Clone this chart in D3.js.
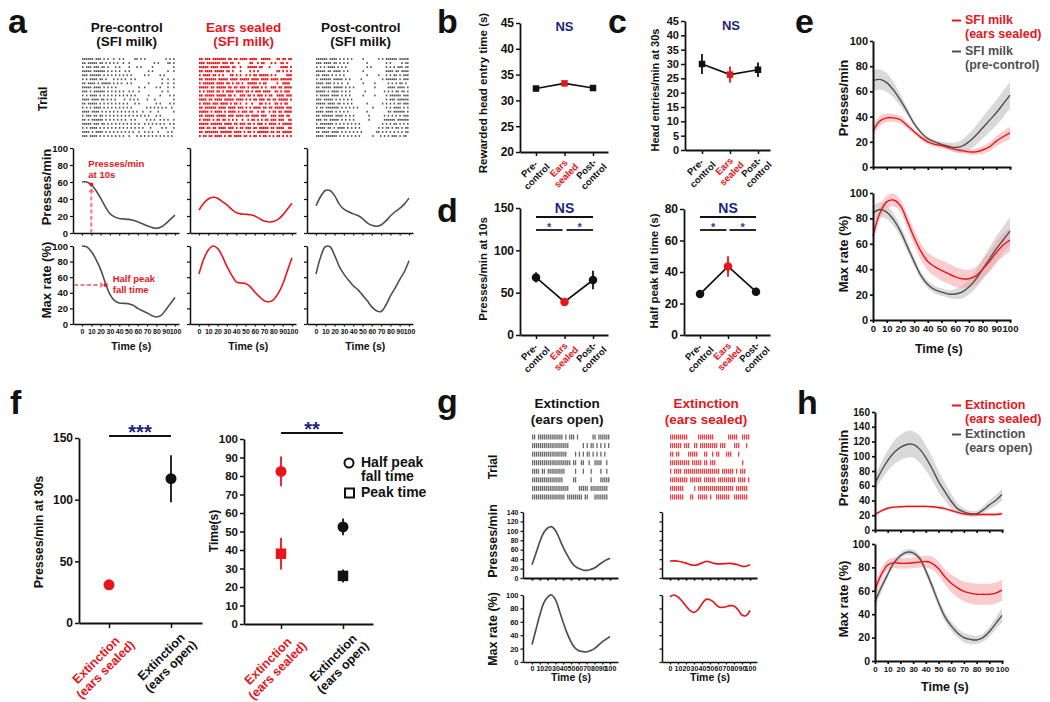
<!DOCTYPE html>
<html><head><meta charset="utf-8">
<script src="https://cdn.jsdelivr.net/npm/d3@7"></script>
<style>
body{margin:0;background:#fff}
svg text{font-family:"Liberation Sans",Arial,Helvetica,sans-serif;font-weight:bold}
</style></head><body>
<script>
// ================= DATA =================
const timeTicks=[0,10,20,30,40,50,60,70,80,90,100];
const pctTicks=[0,20,40,60,80,100];
const curveTime=[0,5,10,15,20,25,30,35,40,45,50,55,60,65,70,75,80,85,90,95,100];

// panel a
const aTitles=[["Pre-control","(SFI milk)"],["Ears sealed","(SFI milk)"],["Post-control","(SFI milk)"]];
const aPrePresses=[60,60,57,50,41,31,23,19,17,16.5,16,15,13,11,8.5,6.5,5.5,7,11,16,21];
const aPreMaxRate=[100,99,93,83,70,53,38,30,27,26.5,26,24,20,17,14,11,9,11,18,26,34];
const aEarsPresses=[27,35,40,42,41,37,33,28,24,22.5,22,21.5,20,17,14,13,13.5,16,21,28,35];
const aEarsMaxRate=[64,83,95,100,97,87,74,63,54,52.5,52,48,41,35,30,28.5,31,39,51,68,85];
const aPostPresses=[32,43,50,50,44,34,28,25,22.5,20.5,17,12,9,8,9.5,14,20,25,29,34,41];
const aPostMaxRate=[64,86,99,99,88,74,64,56,49,44,37,30,22,17,16,24,36,46,57,67,81];
const aPressesMarkTime=10, aPressesMarkValue=57;
const aHalfPeakTime=25.5, aHalfPeakValue=50;
const aPreTrials=[
"######.###.#.#..#..#.#.....##.#.#..........#.#.#",
"##.#####.##.#.#.#.#..#..#............#.#....##.#",
"#.###.###.##.#...#.#....#...#.#.....#..........#",
"#####.######.#.#.#.#..#.#.........#.#.......#..#",
"###.######.#.#.#.#.#.#.#.#......#.#.....#.#.....",
"#.#.####.##.#...#.#.#.#..#.#.............#..#..#",
"##.####.#.#####.#.#.#..#.#........#......#..#..#",
"#####.####.#.#.#.#...........#..#.....#.#...#..#",
"###.#.######.#.#.#.#.#..#.#..#...........#..#...",
"#.#.####.#.#.#.#.#.#.#.#.#.#......#.....#....#.#",
"####.####.##.#.#.#....#..#.#.#....#...#.........#",
"##.#####.#.#.#.#.#.#.#.#...#.#........#.#....#.#",
"#.#.#.####.#.#.#.#.#.#.#.#.......#.#.#.#.#.#..#.",
"####.####.#.#.#.#.#.#.#.#.#.#..#...#...#.......#",
"#.###.##.##.#.#.#.#.#.#.#.#.#.#.#.#...#.#.......",
"##.#.######.#.#.#.#.#.#..#.#.....#.#.#..#.#.#..#",
"#####.###.##.#.#.#.#.#.#.#.#.#..#.#.#.#.#.#..#.#",
"#.#.####.#.#.#.#.#.#.#.#.#.#.#.#...#.....#.#...#",
"####.#.####.#.#.#.#.#.#.#.#..#..#.#.#..#....#.#.",
"###.####.#.#.#.#.#.#.#..#...#.#.#.#.#.#.#.#.#.#."];
const aEarsTrials=[
"##.###.#######.##.##.####.####..#####...##.##.##",
"###.#######.###.##..#.....##..#.##...#.#..##.#..",
"#####.####.#####.##..#...#####.##...#.....####.#",
"##.####.#####.##.#...#....#.#.#.........##.#.#.#",
"#.####.##.#.#...##.#.#..#.#.##.#####.#.#.....###",
"##.######.#####.####.#####.####.####.####.######",
"#.######.####.##.#.##.#..#####.#.##.....#..####.",
"#####.##.#####.##.##.###.#.####.#.#..###.##.####",
"#.#.####.##.#.####.####.##.#.###.####..##.#.###.",
"##.#####.#####.##.#..###.##.#.###.#.##..####.###",
"####.##.####.#####.####.#.#.##.###.##.##.#####.#",
"#.####.###.####.#.##.#..#..#...##.#.#..##.#.##..",
"##.######.####.####.###.#.#.####.##.##.#####.###",
"#####.#.####.#.####.#.###.##..#.##..#.##.##.####",
"##.#####.#####.###.####.##.####.###..###.###.##.",
"#.####.#.##.##.#.#.#..#..#.##.#.#.##.###.###..##",
"#####.######.####.##.###.##.#.###.#.####.#.#####",
"###.##.##.####.###.#.##.###.##.#####.##.####..##",
"##.#######.######.####.#.##.#.######.##.##.#####",
"#.##.##.####.#.##.####.##.#.##.#.##.#.#.##.#.#.#"];
const aPostTrials=[
"######.####.#.#.#.#.....#.......#.#.######.#####",
"###.####.##.#.#.#.........#.........#.#.....#.##",
"#.#.#.####.#.#.#..........#.#.......#.#.#.###.##",
"#####.##.####.#.#.......#...........####.##.####",
"##.####.#.#.#.#...........#.....#...#.#.##.#.###",
"#.######.#####.#.#.....#..........#.######.#.###",
"####.###.#.#.#..#.......#.....#......#.#.#.##.#.",
"##.#####.#####.#.#.#..........#......####.####.#",
"#####.#.####.#.#.#.......#.........#.#.#.##.##.#",
"#.#####.####.#.#.#......#.....#.....#.######.###",
"###.#####.#.#.#.#.#.................#.###.######",
"#####.####.##.#.#.#.......#.......#.#.#.#.##.###",
"#.##.#######.#.#.#.#.#.......#......#.#.####.#.#",
"####.####.#.#.#.#.........#..........##.######.#",
"##.######.####.#.#.#.......#.......#.#.#.#.#.###",
"###.##.#####.#.#.#.#.......#.......######.######",
"#.#######.#.#.#.#.#.#.#...........#.#.#.##.#.#.#",
"#####.##.#.####.#.#.#.#.........#.#.##.#.##.#.##",
"##.####.####.#.#.#.#.#.#.......##.#.#.#.#.#.#.##",
"####.######.#.#.#.#.#.#......#...#.#.#.###.#.##."];

// panels b, c, d
const bcdCategories=[["Pre-","control"],["Ears","sealed"],["Post-","control"]];
const bTicks=[20,25,30,35,40,45];
const bHeadEntryTime=[32.3,33.3,32.4];
const bHeadEntryErr=[0.3,0.4,0.3];
const cTicks=[0,5,10,15,20,25,30,35,40,45];
const cHeadEntries=[30,26.3,28];
const cHeadEntriesErr=[3.5,2.8,2.5];
const dPressTicks=[0,50,100,150];
const dPresses10s=[68,39,65];
const dPresses10sErr=[6,3,11];
const dHalfTicks=[0,20,40,60,80];
const dHalfFall=[26,43.5,27.5];
const dHalfFallErr=[1.5,6.5,1.5];

// panel e
const eLegend=[["SFI milk","(ears sealed)"],["SFI milk","(pre-control)"]];
const eSealedPresses=[28.5,36.5,39,39,37.5,33,28,23.5,20,18,17,15.5,14,13,12,12,13.5,16,20.5,24,27];
const eSealedPressesSem=[4.5,4,3.5,3,3,2.5,2,2,2,2,2,2,2,2,2,2.5,3,3.5,4,4.5,5];
const eControlPresses=[68.5,69.5,67,61,53,44,34.5,27.5,22.5,20,18,16.5,15.5,16.5,20,25,31,37,43,50,57];
const eControlPressesSem=[8.5,8,7.5,6,4.5,3,2,1.5,1.5,1.5,2,3,4,5,6.5,7.5,8.5,9.5,10,10.5,10.5];
const eSealedMax=[66,84,93,94.5,90,78,65,54,46,42,39,36.5,34,32.5,32.5,34.5,40,46,53,59,63];
const eSealedMaxSem=[6,5,5,5,5,5.5,6,6.5,7,7.5,8,8,8,7.5,7,7,7.5,8,8.5,9,9];
const eControlMax=[84,87,85,79,70,58,46,35,28,24,22,20.5,20.5,22,26,32,40,48,56,63,70];
const eControlMaxSem=[6,6,5.5,5,4.5,4,3.5,3,3,3,3,3,4,5,6,7,8,9,10,10.5,11];

// panel f
const fCategories=[["Extinction","(ears sealed)"],["Extinction","(ears open)"]];
const fPressTicks=[0,50,100,150];
const fPresses30s=[31,117];
const fPresses30sErr=[2,19];
const fTimeTicks=[0,10,20,30,40,50,60,70,80,90,100];
const fHalfPeakFall=[82.5,52.5];
const fHalfPeakFallErr=[8,4.5];
const fPeakTime=[38,26];
const fPeakTimeErr=[8.5,3.5];
const fLegend=[["Half peak","fall time"],["Peak time"]];

// panel g
const gTitles=[["Extinction","(ears open)"],["Extinction","(ears sealed)"]];
const gPressTicks=[0,20,40,60,80,100,120,140];
const gOpenPresses=[28,52,77,96,106,109,101,84,65,49,35,25,20,17,16,18,21,27,33,38,42];
const gOpenMax=[26,48,70,88,97,100,93,77,59,43,30,21,17,15.5,15,17,20,25,30,34,38];
const gSealedPresses=[36,36.5,35.5,34,31.5,28.5,27,28.5,32,35,34,31,30,30,30.5,31,30,28,25,25,28];
const gSealedMax=[97.5,100,97,91,83.5,77,74,78,87,93.5,93,89,83,81.5,82.5,84,83.5,78,70,69,77];
const gOpenTrials=[
"##.#############.#.###.#.......##.######",
"###################.......#.#.##.#.#.#.#",
"##################....#.#.#.##.#.#.#.#..",
"####################.##..##..#..####..#.",
"####.##.#########.....#...#...#....#..#.",
"################.....##.......#....#####",
"###################.....#####.#########.",
"#################.########.##...#######."];
const gSealedTrials=[
"#########.....########.......#####..####",
"######.###..##.#########.###....###...#.",
"##.##....#####...##..#.##...###...#.....",
"##########.#####.##.###.............#...",
"#.####.##################.######.#.###..",
"#########.######.######.#########.####.#",
"#######.....#.##################.######.",
"#######...##..#####.#..#######..#######."];

// panel h
const hLegend=[["Extinction","(ears sealed)"],["Extinction","(ears open)"]];
const hPressTicks=[0,20,40,60,80,100,120,140,160];
const hSealedPresses=[21,26,29.5,31,31.5,32,32,32,32,31.5,30.5,29,26.5,24,22,21,21,21,21,21,22];
const hSealedPressesSem=[2,2,2,2,2,2,2,2,2,2,2,2,2,2,2,2,2,2,2,2,2];
const hOpenPresses=[63,80,94,105,112,116,116,110,98,83,66,52,39,29,24.5,22,22,27,34,40,48];
const hOpenPressesSem=[10,12,14,16,17,18,18,18,17,16,14,12,10,7,5,4,4,5,6,7,8];
const hSealedMax=[60.5,74,82,84,83.5,83.5,84,84.5,85,83.5,79,72,66.5,62.5,59.5,58,57,57,57,58,60.5];
const hSealedMaxSem=[6,5,4.5,4.5,4.5,4.5,4.5,4.5,5,5.5,6,6.5,7.5,8,8.5,9,9,9,9,9,9];
const hOpenMax=[51,63,74,84,90,93,92.5,88,77,64,50,38,30,24,20,18.5,18,20,25,32,39];
const hOpenMaxSem=[6,4,3,2.5,2.5,2.5,2.5,3,3.5,4,4,4,4,4,4,4,3.5,3.5,4,5,6];

// ================= DRAWING =================
const RED='#e8151b', GRAY='#4f4f4f', BLK='#111', NAVY='#1c1f7e', STAR='#3535a5', PINK='#f07a80';
const svg=d3.select('body').append('svg').attr('width',1050).attr('height',702);

function txt(x,y,s,o={}){
  const t=svg.append('text')
    .attr('transform',`translate(${x},${y})`+(o.rot?` rotate(${o.rot})`:''))
    .attr('text-anchor',o.anchor||'start').attr('fill',o.fill||BLK)
    .style('font-size',(o.fs||12)+'px').text(s);
  return t;
}
function styleAxis(g,fs,sw){
  g.attr('font-family',null).attr('font-size',null);
  g.select('.domain').attr('stroke',BLK).attr('stroke-width',sw);
  g.selectAll('.tick line').attr('stroke',BLK).attr('stroke-width',Math.max(1,sw-0.3));
  g.selectAll('.tick text').attr('fill',BLK).style('font-size',fs+'px');
}
function axisL(x,ys,ticks,fs,o={}){
  const ax=d3.axisLeft(ys).tickValues(ticks).tickSize(o.size||3).tickSizeOuter(0).tickPadding(o.pad||2);
  if(o.noLabels) ax.tickFormat(()=> '');
  const g=svg.append('g').attr('transform',`translate(${x},0)`).call(ax);
  styleAxis(g,fs,o.sw||1.6); return g;
}
function axisB(y,xs,ticks,fs,o={}){
  const ax=d3.axisBottom(xs).tickValues(ticks).tickSize(o.size||3).tickSizeOuter(0).tickPadding(o.pad||2);
  if(o.noLabels) ax.tickFormat(()=> '');
  const g=svg.append('g').attr('transform',`translate(0,${y})`).call(ax);
  styleAxis(g,fs,o.sw||1.6); return g;
}
function extend(xs,x0,x1){return d3.scaleLinear().domain([xs.invert(x0),xs.invert(x1)]).range([x0,x1]);}
function curve(xs,ys,t,v,color,w){
  const line=d3.line().x((d,i)=>xs(t[i])).y(d=>ys(d)).curve(d3.curveCatmullRom.alpha(0.5));
  svg.append('path').datum(v).attr('d',line).attr('fill','none').attr('stroke',color).attr('stroke-width',w||1.6);
}
function band(xs,ys,t,v,e,color,op){
  const area=d3.area().x((d,i)=>xs(t[i])).y0((d,i)=>ys(d-e[i])).y1((d,i)=>ys(d+e[i])).curve(d3.curveCatmullRom.alpha(0.5));
  svg.append('path').datum(v).attr('d',area).attr('fill',color).attr('opacity',op);
}
function raster(rows,xs,ys,color,w,h,op){
  rows.forEach((row,r)=>{
    const n=row.length;
    const on=[];
    for(let i=0;i<n;i++) if(row[i]==='#') on.push(i*100/n);
    svg.append('g').selectAll('rect').data(on).join('rect')
      .attr('x',d=>xs(d)).attr('y',ys(r)-h/2).attr('width',w).attr('height',h)
      .attr('fill',color).attr('opacity',op||1);
  });
}
function yLabel(x,cy,s,fs){ txt(x,cy,s,{rot:-90,anchor:'middle',fs}); }
function letter(x,y,s){ txt(x,y,s,{fs:34}); }
function catLabels(xs,axisY,cats,colors,fs,lh,dx,dy){
  cats.forEach((lines,i)=>{
    const g=svg.append('g').attr('transform',`translate(${xs(i)+dx},${axisY+dy}) rotate(-45)`);
    const ts=lines.map((s,j)=>g.append('text').attr('y',j*lh).attr('text-anchor','middle')
      .attr('fill',colors[i]).style('font-size',fs+'px').text(s));
    const mx=d3.max(ts,t=>t.node().getComputedTextLength());
    ts.forEach(t=>t.attr('x',-mx/2));
  });
}
function catPoints(xs,ys,vals,errs,colors,shape,size,connect){
  if(connect){
    svg.append('path').datum(vals).attr('d',d3.line().x((d,i)=>xs(i)).y(d=>ys(d)))
      .attr('fill','none').attr('stroke',BLK).attr('stroke-width',1.7);
  }
  vals.forEach((v,i)=>{
    svg.append('line').attr('x1',xs(i)).attr('x2',xs(i)).attr('y1',ys(v-errs[i])).attr('y2',ys(v+errs[i]))
      .attr('stroke',colors[i]).attr('stroke-width',1.8);
    if(shape==='square') svg.append('rect').attr('x',xs(i)-size/2).attr('y',ys(v)-size/2).attr('width',size).attr('height',size).attr('fill',colors[i]);
    else svg.append('circle').attr('cx',xs(i)).attr('cy',ys(v)).attr('r',size/2).attr('fill',colors[i]);
  });
}
function bracket(x0,x1,y,label,fs,color,ty){
  svg.append('line').attr('x1',x0).attr('x2',x1).attr('y1',y).attr('y2',y).attr('stroke',BLK).attr('stroke-width',1.8);
  txt((x0+x1)/2,ty,label,{anchor:'middle',fs,fill:color});
}
function legend(entries,colors,ys){
  entries.forEach((l,i)=>{
    const y0=ys[i];
    svg.append('line').attr('x1',952).attr('x2',961).attr('y1',y0-3.5).attr('y2',y0-3.5).attr('stroke',colors[i]).attr('stroke-width',2);
    txt(965,y0,l[0],{fs:12.5,fill:colors[i]});
    txt(965,y0+13.5,l[1],{fs:12.5,fill:colors[i]});
  });
}

// ---------- panel a ----------
letter(8,33,'a');
const aAxisX=[73,190,307];
const aPresses=[aPrePresses,aEarsPresses,aPostPresses];
const aMax=[aPreMaxRate,aEarsMaxRate,aPostMaxRate];
const aTrials=[aPreTrials,aEarsTrials,aPostTrials];
const aColors=[GRAY,RED,GRAY];
const aYP=d3.scaleLinear([0,100],[233,148]);
const aYM=d3.scaleLinear([0,100],[324,246]);
const aYR=d3.scaleLinear([0,19],[59,136]);
aAxisX.forEach((ax,i)=>{
  const xs=d3.scaleLinear([0,100],[ax+9,ax+102]);
  const xa=extend(xs,ax,ax+106);
  txt(xs(48),32,aTitles[i][0],{anchor:'middle',fs:13.5,fill:i===1?RED:BLK});
  txt(xs(48),46,aTitles[i][1],{anchor:'middle',fs:13.5,fill:i===1?RED:BLK});
  raster(aTrials[i],xs,aYR,i===1?RED:'#333',i===1?1.7:1.5,i===1?2.2:1.8,i===1?1:0.85);
  axisL(ax,aYP,pctTicks,9.5,{noLabels:i>0,sw:1.5});
  axisB(233,xa,timeTicks,7,{noLabels:true,sw:1.5,size:2.5});
  axisL(ax,aYM,pctTicks,9.5,{noLabels:i>0,sw:1.5});
  axisB(324,xa,timeTicks,7,{sw:1.5,size:2.5,pad:3});
  curve(xs,aYP,curveTime,aPresses[i],aColors[i],1.6);
  curve(xs,aYM,curveTime,aMax[i],aColors[i],1.6);
  txt(xs(53),350,'Time (s)',{anchor:'middle',fs:10.5});
  if(i===0){
    const px=xs(aPressesMarkTime);
    svg.append('line').attr('x1',px).attr('x2',px).attr('y1',aYP(0)).attr('y2',aYP(aPressesMarkValue-9))
      .attr('stroke',PINK).attr('stroke-width',2).attr('stroke-dasharray','4,2.5');
    svg.append('path').attr('d',`M${px-3.2},${aYP(aPressesMarkValue-9)}L${px+3.2},${aYP(aPressesMarkValue-9)}L${px},${aYP(aPressesMarkValue-4)}Z`).attr('fill',PINK);
    svg.append('circle').attr('cx',px).attr('cy',aYP(aPressesMarkValue)).attr('r',2).attr('fill',RED);
    txt(px-3,167,'Presses/min',{fs:9.5,fill:RED});
    txt(px-3,178,'at 10s',{fs:9.5,fill:RED});
    const hy=aYM(aHalfPeakValue);
    svg.append('line').attr('x1',ax+1).attr('x2',xs(aHalfPeakTime-6)).attr('y1',hy).attr('y2',hy)
      .attr('stroke',PINK).attr('stroke-width',2).attr('stroke-dasharray','4,2.5');
    svg.append('path').attr('d',`M${xs(aHalfPeakTime-6)},${hy-3.2}L${xs(aHalfPeakTime-6)},${hy+3.2}L${xs(aHalfPeakTime-2)},${hy}Z`).attr('fill',PINK);
    svg.append('circle').attr('cx',xs(aHalfPeakTime)).attr('cy',hy).attr('r',2).attr('fill',RED);
    txt(xs(aHalfPeakTime)+7,282,'Half peak',{fs:9.5,fill:RED});
    txt(xs(aHalfPeakTime)+7,293,'fall time',{fs:9.5,fill:RED});
  }
});
txt(47,99,'Trial',{rot:-90,anchor:'middle',fs:12});
yLabel(51,187,'Presses/min',13);
yLabel(51,280,'Max rate (%)',13);

// ---------- panel b ----------
letter(437,33,'b');
{
  const ys=d3.scaleLinear([20,45],[152,23]);
  const xs=d3.scaleLinear([0,2],[536,593]);
  axisL(520,ys,bTicks,12,{size:4,sw:1.8});
  axisB(152,extend(xs,520,608),[0,1,2],10,{noLabels:true,size:4,sw:1.8});
  catPoints(xs,ys,bHeadEntryTime,bHeadEntryErr,[BLK,RED,BLK],'square',6.5,true);
  catLabels(xs,152,bcdCategories,[BLK,RED,BLK],9.5,10.5,7,8);
  txt(xs(1),31,'NS',{anchor:'middle',fs:13,fill:NAVY});
  yLabel(487,93,'Rewarded head entry time (s)',11.5);
}
// ---------- panel c ----------
letter(608,33,'c');
{
  const ys=d3.scaleLinear([0,45],[150,21]);
  const xs=d3.scaleLinear([0,2],[702,758]);
  axisL(685,ys,cTicks,11,{size:4,sw:1.8});
  axisB(150,extend(xs,685,770),[0,1,2],10,{noLabels:true,size:4,sw:1.8});
  catPoints(xs,ys,cHeadEntries,cHeadEntriesErr,[BLK,RED,BLK],'square',6.5,true);
  catLabels(xs,150,bcdCategories,[BLK,RED,BLK],9.5,10.5,7,8);
  txt(xs(1)+1,30,'NS',{anchor:'middle',fs:13,fill:NAVY});
  yLabel(659,90,'Head entries/min at 30s',11);
}
// ---------- panel d ----------
letter(437,222,'d');
{
  const ys=d3.scaleLinear([0,150],[335,208]);
  const xs=d3.scaleLinear([0,2],[536,593]);
  axisL(520,ys,dPressTicks,12,{size:4,sw:1.8});
  axisB(335,extend(xs,520,608),[0,1,2],10,{noLabels:true,size:4,sw:1.8});
  catPoints(xs,ys,dPresses10s,dPresses10sErr,[BLK,RED,BLK],'circle',8.5,true);
  catLabels(xs,335,bcdCategories,[BLK,RED,BLK],9.5,10.5,7,8);
  bracket(xs(0),xs(2),217,'NS',14,NAVY,213);
  bracket(xs(0),xs(1)-2,230,'*',11,STAR,231);
  bracket(xs(1)+2,xs(2),230,'*',11,STAR,231);
  yLabel(487,269,'Presses/min at 10s',11.5);
}
{
  const ys=d3.scaleLinear([0,80],[335,209]);
  const xs=d3.scaleLinear([0,2],[700,756]);
  axisL(684,ys,dHalfTicks,12,{size:4,sw:1.8});
  axisB(335,extend(xs,684,770),[0,1,2],10,{noLabels:true,size:4,sw:1.8});
  catPoints(xs,ys,dHalfFall,dHalfFallErr,[BLK,RED,BLK],'circle',8.5,true);
  catLabels(xs,335,bcdCategories,[BLK,RED,BLK],9.5,10.5,7,8);
  bracket(xs(0),xs(2),217,'NS',14,NAVY,213);
  bracket(xs(0),xs(1)-1.5,230,'*',11,STAR,231);
  bracket(xs(1)+1.5,xs(2),230,'*',11,STAR,231);
  yLabel(658,271,'Half peak fall time (s)',11.5);
}

// ---------- panel e ----------
letter(795,33,'e');
{
  const xs=d3.scaleLinear([0,100],[873,1010]);
  const xa=extend(xs,873,1011);
  const yt=d3.scaleLinear([0,100],[167,41]);
  const yb=d3.scaleLinear([0,100],[320,193]);
  band(xs,yt,curveTime,eControlPresses,eControlPressesSem,'#cfcfcf',0.8);
  band(xs,yt,curveTime,eSealedPresses,eSealedPressesSem,'#f5a3a6',0.55);
  curve(xs,yt,curveTime,eControlPresses,GRAY,1.4);
  curve(xs,yt,curveTime,eSealedPresses,RED,1.4);
  band(xs,yb,curveTime,eControlMax,eControlMaxSem,'#cfcfcf',0.8);
  band(xs,yb,curveTime,eSealedMax,eSealedMaxSem,'#f5a3a6',0.55);
  curve(xs,yb,curveTime,eControlMax,GRAY,1.4);
  curve(xs,yb,curveTime,eSealedMax,RED,1.4);
  axisL(873,yt,pctTicks,11,{size:3,sw:2});
  axisB(167,xa,timeTicks,9,{noLabels:true,size:3,sw:2});
  axisL(873,yb,pctTicks,11,{size:3,sw:2});
  axisB(320,xa,timeTicks,9.5,{size:3,sw:2,pad:2});
  yLabel(848,98,'Presses/min',13);
  yLabel(848,254,'Max rate (%)',13);
  txt(xs(48),353,'Time (s)',{anchor:'middle',fs:12.5});
  legend(eLegend,[RED,GRAY],[24,55]);
}

// ---------- panel f ----------
letter(10,414,'f');
{
  const ys=d3.scaleLinear([0,150],[623,438]);
  const xs=d3.scaleLinear([0,1],[109,171]);
  axisL(79,ys,fPressTicks,12,{size:4,sw:1.8});
  axisB(623,extend(xs,79,202),[0,1],10,{noLabels:true,size:5,sw:1.8});
  catPoints(xs,ys,fPresses30s,fPresses30sErr,[RED,BLK],'circle',11,false);
  catLabels(xs,623,fCategories,[RED,BLK],12.5,13.5,17,13);
  bracket(xs(0),xs(1),436,'***',20,NAVY,439);
  yLabel(43,532,'Presses/min at 30s',12.5);
}
{
  const ys=d3.scaleLinear([0,100],[624,439]);
  const xs=d3.scaleLinear([0,1],[281,343]);
  axisL(244,ys,fTimeTicks,11.5,{size:4,sw:1.8});
  axisB(624,extend(xs,244,373),[0,1],10,{noLabels:true,size:5,sw:1.8});
  catPoints(xs,ys,fHalfPeakFall,fHalfPeakFallErr,[RED,BLK],'circle',11,false);
  catPoints(xs,ys,fPeakTime,fPeakTimeErr,[RED,BLK],'square',10.5,false);
  catLabels(xs,624,fCategories,[RED,BLK],12.5,13.5,17,13);
  bracket(xs(0),xs(1),433,'**',20,NAVY,436);
  yLabel(218,531,'Time(s)',12);
  svg.append('circle').attr('cx',349).attr('cy',463).attr('r',4.5).attr('fill','none').attr('stroke',BLK).attr('stroke-width',2);
  svg.append('rect').attr('x',345).attr('y',488.5).attr('width',9).attr('height',9).attr('fill','none').attr('stroke',BLK).attr('stroke-width',2);
  txt(361,467,fLegend[0][0],{fs:14});
  txt(361,481,fLegend[0][1],{fs:14});
  txt(361,497,fLegend[1][0],{fs:14});
}

// ---------- panel g ----------
letter(437,413,'g');
{
  const axes=[523,662];
  const xr=[[532,610],[670,750]];
  const titleCol=[BLK,RED];
  const pres=[gOpenPresses,gSealedPresses], mx=[gOpenMax,gSealedMax], tr=[gOpenTrials,gSealedTrials];
  const yp=d3.scaleLinear([0,140],[578,512]);
  const ym=d3.scaleLinear([0,100],[662,595]);
  const yr=d3.scaleLinear([0,7],[437,497]);
  axes.forEach((ax,i)=>{
    const xs=d3.scaleLinear([0,100],xr[i]);
    const xa=extend(xs,ax,ax+95);
    txt(xs(45),408,gTitles[i][0],{anchor:'middle',fs:13.5,fill:titleCol[i]});
    txt(xs(45),424,gTitles[i][1],{anchor:'middle',fs:13.5,fill:titleCol[i]});
    raster(tr[i],xs,yr,i===1?RED:'#444',1.3,5,0.8);
    axisL(ax,yp,gPressTicks,7,{noLabels:i>0,size:2.5,sw:1.5});
    axisB(578,xa,timeTicks,7,{noLabels:true,size:2.5,sw:2.2});
    axisL(ax,ym,pctTicks,7.5,{noLabels:i>0,size:2.5,sw:1.5});
    axisB(662,xa,timeTicks,7,{size:2.5,sw:1.5,pad:2});
    curve(xs,yp,curveTime,pres[i],i===1?RED:GRAY,1.7);
    curve(xs,ym,curveTime,mx[i],i===1?RED:GRAY,1.7);
    txt(xs(50),681,'Time (s)',{anchor:'middle',fs:10.5});
  });
  txt(497,467,'Trial',{rot:-90,anchor:'middle',fs:12});
  yLabel(497,541,'Presses/min',12.5);
  yLabel(497,629,'Max rate (%)',12.5);
}

// ---------- panel h ----------
letter(797,414,'h');
{
  const xs=d3.scaleLinear([0,100],[875,1002]);
  const xa=extend(xs,875,1003);
  const yt=d3.scaleLinear([0,160],[530,412]);
  const yb=d3.scaleLinear([0,100],[661,544]);
  band(xs,yt,curveTime,hOpenPresses,hOpenPressesSem,'#cfcfcf',0.8);
  band(xs,yt,curveTime,hSealedPresses,hSealedPressesSem,'#f5a3a6',0.55);
  curve(xs,yt,curveTime,hOpenPresses,GRAY,1.4);
  curve(xs,yt,curveTime,hSealedPresses,RED,1.4);
  band(xs,yb,curveTime,hOpenMax,hOpenMaxSem,'#cfcfcf',0.8);
  band(xs,yb,curveTime,hSealedMax,hSealedMaxSem,'#f5a3a6',0.55);
  curve(xs,yb,curveTime,hOpenMax,GRAY,1.4);
  curve(xs,yb,curveTime,hSealedMax,RED,1.4);
  axisL(875,yt,hPressTicks,10,{size:3,sw:2});
  axisB(530,xa,timeTicks,8,{noLabels:true,size:3,sw:2});
  axisL(875,yb,pctTicks,10.5,{size:3,sw:2});
  axisB(661,xa,timeTicks,8,{size:3,sw:2,pad:2});
  yLabel(848,468,'Presses/min',13);
  yLabel(848,599,'Max rate (%)',13);
  txt(xs(55),691,'Time (s)',{anchor:'middle',fs:12.5});
  legend(hLegend,[RED,GRAY],[409,438]);
}
</script></body></html>
